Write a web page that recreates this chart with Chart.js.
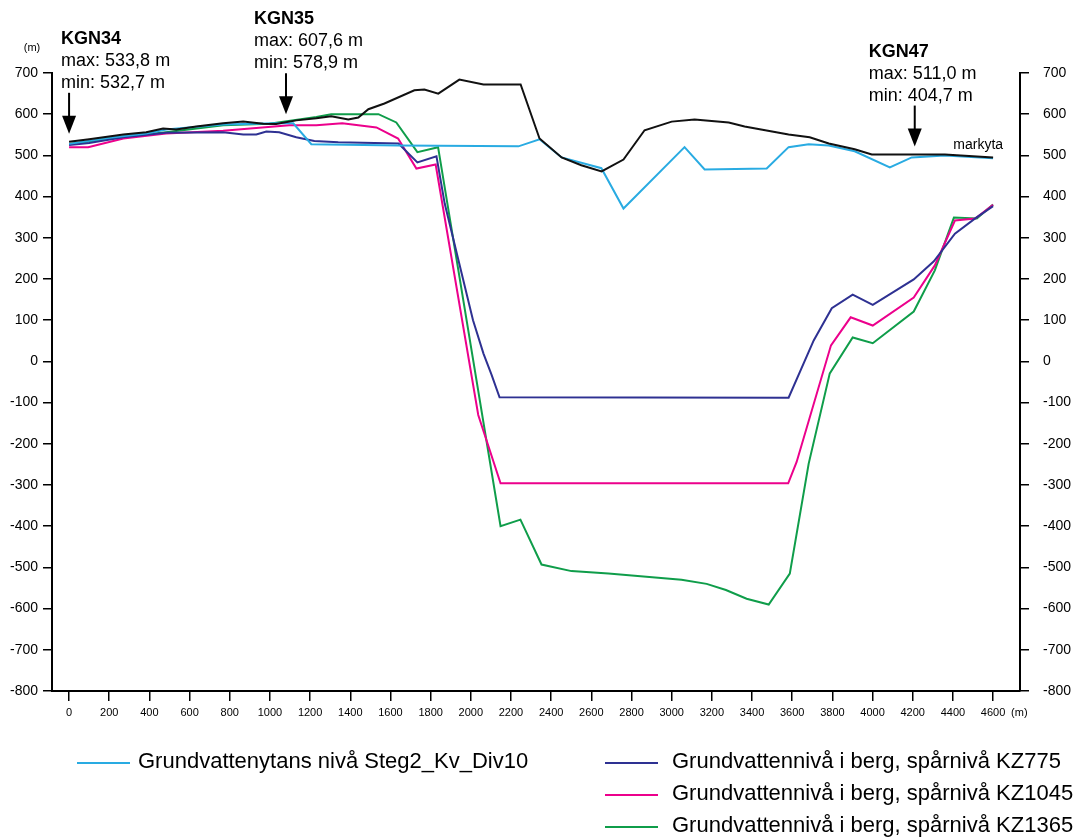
<!DOCTYPE html>
<html>
<head>
<meta charset="utf-8">
<script src="https://cdn.jsdelivr.net/npm/chart.js@4.4.1/dist/chart.umd.min.js"></script>
<style>
  html, body { margin: 0; padding: 0; background: #fff; }
  canvas { display: block; }
</style>
</head>
<body>
<canvas id="profile" width="1079" height="838"></canvas>
<script>
// axis ticks (m)
const xTicks = [0, 200, 400, 600, 800, 1000, 1200, 1400, 1600, 1800, 2000, 2200, 2400,
  2600, 2800, 3000, 3200, 3400, 3600, 3800, 4000, 4200, 4400, 4600];
const yTicks = [-800, -700, -600, -500, -400, -300, -200, -100, 0, 100, 200, 300, 400, 500, 600, 700];

// markyta (ground surface)
const surfaceX = [0, 100, 270, 384, 468, 533, 633, 767, 867, 967, 1030, 1131, 1231, 1305, 1390, 1440,
  1490, 1570, 1719, 1769, 1838, 1943, 2063, 2248, 2342, 2452, 2550, 2651, 2760, 2865, 3000, 3114,
  3284, 3363, 3582, 3687, 3782, 3911, 3996, 4111, 4360, 4600];
const surfaceY = [533, 539, 551, 556, 565, 563, 570, 578, 582, 577, 576, 585, 590, 595, 587, 592,
  612, 626, 658, 660, 650, 684, 672, 672, 541, 495, 476, 461, 490, 561, 582, 587,
  580, 570, 551, 544, 529, 515, 502, 502, 502, 495];

// Grundvattenytans nivå Steg2_Kv_Div10
const tableX = [0, 200, 384, 483, 767, 1030, 1116, 1206, 1640, 2237, 2342, 2452, 2650, 2760, 3064,
  3164, 3473, 3582, 3682, 3782, 3911, 4086, 4195, 4360, 4600];
const tableY = [528, 543, 553, 563, 575, 578, 578, 527, 524, 522, 539, 495, 469, 371, 520,
  466, 468, 520, 527, 524, 510, 471, 495, 500, 493];

// KZ775
const kz775X = [0, 100, 270, 483, 767, 867, 932, 982, 1046, 1131, 1221, 1340, 1640, 1734, 1829,
  1870, 2011, 2063, 2103, 2143, 3582, 3707, 3797, 3901, 4001, 4205, 4305, 4410, 4511, 4600];
const kz775Y = [525, 530, 544, 555, 556, 551, 551, 558, 556, 544, 535, 532, 529, 483, 498,
  383, 100, 19, -32, -87, -88, 51, 129, 162, 137, 199, 243, 310, 347, 377];

// KZ1045
const kz1045X = [0, 95, 270, 483, 767, 1096, 1231, 1360, 1530, 1638, 1729, 1825, 2037, 2148,
  3580, 3622, 3793, 3891, 4001, 4205, 4310, 4410, 4511, 4600];
const kz1045Y = [520, 520, 541, 553, 560, 573, 573, 578, 568, 541, 468, 478, -130, -296,
  -296, -244, 39, 107, 87, 155, 233, 342, 347, 380];

// KZ1365
const kz1365X = [0, 270, 483, 767, 997, 1231, 1305, 1540, 1629, 1734, 1837, 2148, 2247, 2352,
  2501, 2685, 3049, 3174, 3270, 3373, 3483, 3588, 3682, 3787, 3901, 4001, 4205, 4310, 4405, 4519, 4600];
const kz1365Y = [527, 545, 556, 573, 577, 593, 600, 600, 580, 508, 520, -400, -384, -493,
  -509, -515, -530, -540, -555, -576, -590, -515, -248, -29, 58, 44, 121, 221, 349, 347, 381];

// borehole annotations
const wellNames = ["KGN34", "KGN35", "KGN47"];
const wellX = [0, 1080, 4210];
const wellMax = [533.8, 607.6, 511.0];
const wellMin = [532.7, 578.9, 404.7];

const FONT = '"Liberation Sans", Arial, Helvetica, sans-serif';
const wellTextDx = [-8, -32, -46];

function pts(xs, ys) { return xs.map((x, i) => ({ x: x, y: ys[i] })); }
function lineSet(label, xs, ys, color) {
  return { label, data: pts(xs, ys), borderColor: color, backgroundColor: color,
    borderWidth: 2, pointRadius: 0, tension: 0, fill: false };
}
function surfaceAt(v) {
  for (let i = 1; i < surfaceX.length; i++) {
    if (v <= surfaceX[i]) {
      const t = (v - surfaceX[i - 1]) / (surfaceX[i] - surfaceX[i - 1]);
      return surfaceY[i - 1] + t * (surfaceY[i] - surfaceY[i - 1]);
    }
  }
  return surfaceY[surfaceY.length - 1];
}
const fmt = v => v.toFixed(1).replace(".", ",");

const overlay = {
  id: "overlay",
  afterDraw(chart) {
    const { ctx, scales: { x, y }, chartArea } = chart;
    ctx.save();
    ctx.fillStyle = "#000";
    ctx.strokeStyle = "#000";
    ctx.textBaseline = "middle";
    ctx.textAlign = "left";

    wellNames.forEach((name, i) => {
      const ax = x.getPixelForValue(wellX[i]);
      const tip = y.getPixelForValue(surfaceAt(wellX[i])) - 8;
      const tx = ax + wellTextDx[i];
      ctx.font = `bold 18px ${FONT}`;
      ctx.fillText(name, tx, tip - 95);
      ctx.font = `18px ${FONT}`;
      ctx.fillText(`max: ${fmt(wellMax[i])} m`, tx, tip - 73);
      ctx.fillText(`min: ${fmt(wellMin[i])} m`, tx, tip - 51);
      ctx.lineWidth = 2;
      ctx.beginPath(); ctx.moveTo(ax, tip - 41); ctx.lineTo(ax, tip - 16); ctx.stroke();
      ctx.beginPath(); ctx.moveTo(ax - 7, tip - 18); ctx.lineTo(ax + 7, tip - 18); ctx.lineTo(ax, tip);
      ctx.closePath(); ctx.fill();
    });

    // markyta label at end of surface line
    const last = surfaceX.length - 1;
    ctx.font = `14px ${FONT}`;
    ctx.textAlign = "right";
    ctx.fillText("markyta", x.getPixelForValue(surfaceX[last]) + 10, y.getPixelForValue(surfaceY[last]) - 12);

    // unit labels
    ctx.font = `11px ${FONT}`;
    ctx.textAlign = "center";
    ctx.fillText("(m)", chartArea.left - 20, chartArea.top - 25);
    ctx.textAlign = "left";
    ctx.fillText("(m)", x.getPixelForValue(xTicks[xTicks.length - 1]) + 18, chartArea.bottom + 22);

    // legend
    const ds = chart.data.datasets;
    const items = [
      { d: ds[1], lx: 77, ty: 762 },
      { d: ds[2], lx: 605, ty: 762 },
      { d: ds[3], lx: 605, ty: 794 },
      { d: ds[4], lx: 605, ty: 826 }
    ];
    ctx.font = `22px ${FONT}`;
    ctx.textAlign = "left";
    items.forEach(it => {
      ctx.strokeStyle = it.d.borderColor;
      ctx.lineWidth = 2;
      ctx.beginPath(); ctx.moveTo(it.lx, it.ty + 1); ctx.lineTo(it.lx + 53, it.ty + 1); ctx.stroke();
      ctx.fillStyle = "#000";
      ctx.fillText(it.d.label, it.lx + (it.lx < 300 ? 61 : 67), it.ty);
    });
    ctx.restore();
  }
};

const yAxisBase = {
  type: "linear", min: -800, max: 700,
  afterBuildTicks: a => { a.ticks = yTicks.map(v => ({ value: v })); },
  grid: { drawOnChartArea: false, drawTicks: true, tickLength: 9, color: "#000", lineWidth: 1.5 },
  border: { display: true, color: "#000", width: 2 }
};

new Chart(document.getElementById("profile"), {
  type: "line",
  data: {
    datasets: [
      lineSet("markyta", surfaceX, surfaceY, "#111111"),
      lineSet("Grundvattenytans nivå Steg2_Kv_Div10", tableX, tableY, "#29abe2"),
      lineSet("Grundvattennivå i berg, spårnivå KZ775", kz775X, kz775Y, "#2e3192"),
      lineSet("Grundvattennivå i berg, spårnivå KZ1045", kz1045X, kz1045Y, "#ec008c"),
      lineSet("Grundvattennivå i berg, spårnivå KZ1365", kz1365X, kz1365Y, "#0f9d4a")
    ]
  },
  options: {
    responsive: false,
    animation: false,
    devicePixelRatio: 1,
    layout: { padding: { top: 73, bottom: 117, left: 0, right: 0 } },
    plugins: { legend: { display: false }, tooltip: { enabled: false } },
    scales: {
      x: {
        type: "linear", position: "bottom", min: -85, max: 4734,
        afterBuildTicks: a => { a.ticks = xTicks.map(v => ({ value: v })); },
        afterFit: a => { a.height = 30; },
        grid: { drawOnChartArea: false, drawTicks: true, tickLength: 10, color: "#000", lineWidth: 1.5 },
        border: { display: true, color: "#000", width: 2 },
        ticks: { color: "#000", font: { family: FONT, size: 11 }, padding: 5, maxRotation: 0, autoSkip: false,
          callback: v => String(v) }
      },
      y: Object.assign({}, yAxisBase, {
        position: "left",
        afterFit: a => { a.width = 52; },
        ticks: { color: "#000", font: { family: FONT, size: 14 }, padding: 5, callback: v => String(v) }
      }),
      y2: Object.assign({}, yAxisBase, {
        position: "right",
        afterFit: a => { a.width = 59; },
        ticks: { color: "#000", font: { family: FONT, size: 14 }, padding: 14, callback: v => String(v) }
      })
    }
  },
  plugins: [overlay]
});
</script>
</body>
</html>
